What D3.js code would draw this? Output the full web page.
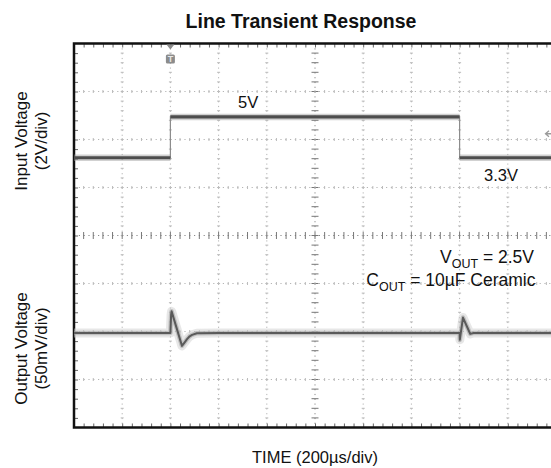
<!DOCTYPE html>
<html>
<head>
<meta charset="utf-8">
<script src="https://cdn.jsdelivr.net/npm/d3@7/dist/d3.min.js"></script>
<style>
  html, body { margin: 0; padding: 0; background: #fff; }
  svg { display: block; font-family: "Liberation Sans", Arial, Helvetica, sans-serif; }
</style>
</head>
<body>
<svg id="chart" width="551" height="468"></svg>
<script>
// Oscilloscope capture: 10 horizontal x 8 vertical divisions
const timeDomain = [0, 2000];          // µs, 200 µs/div
const divisionsX = 10;
const divisionsY = 8;

// Input channel (2 V/div): step 3.3 V -> 5 V -> 3.3 V
const inputTime = [0, 400, 400, 1600, 1600, 2000];
const inputVolt = [3.3, 3.3, 5.0, 5.0, 3.3, 3.3];

// Output channel (50 mV/div, AC coupled around 2.5 V), deviation in mV
const outputTime = [0, 400, 403, 405, 448, 460, 469, 480, 490, 510, 600, 1600, 1601, 1614, 1630, 1644, 1658, 2000];
const outputMv   = [0, 0, 19, 22.5, -13.5, -9.5, -6.5, -3.5, -2, -0.3, 0, 0, -7, 16, 7, -1, 0, 0];

// Channel ground positions, in divisions from screen centre
const inputPosDiv = -0.03;
const outputPosDiv = -2.03;
const inputVoltsPerDiv = 2;
const outputMvPerDiv = 50;

const labels = {
  title: "Line Transient Response",
  xAxis: "TIME (200µs/div)",
  inputAxis: ["Input Voltage", "(2V/div)"],
  outputAxis: ["Output Voltage", "(50mV/div)"],
  high: "5V",
  low: "3.3V"
};

const svg = d3.select("#chart");
const plot = { left: 74, right: 556, top: 43.5, bottom: 427.5 };

const x = d3.scaleLinear().domain(timeDomain).range([plot.left, plot.right]);
const yDiv = d3.scaleLinear().domain([-divisionsY / 2, divisionsY / 2]).range([plot.bottom, plot.top]);
const yIn = d3.scaleLinear()
  .domain([(-divisionsY / 2 - inputPosDiv) * inputVoltsPerDiv, (divisionsY / 2 - inputPosDiv) * inputVoltsPerDiv])
  .range([plot.bottom, plot.top]);
const yOut = d3.scaleLinear()
  .domain([(-divisionsY / 2 - outputPosDiv) * outputMvPerDiv, (divisionsY / 2 - outputPosDiv) * outputMvPerDiv])
  .range([plot.bottom, plot.top]);

const xDivStep = (timeDomain[1] - timeDomain[0]) / divisionsX;
const majorX = d3.range(1, divisionsX).map(i => timeDomain[0] + i * xDivStep);
const majorY = d3.range(1, divisionsY).map(i => -divisionsY / 2 + i);
const minorX = d3.range(1, divisionsX * 5).map(i => timeDomain[0] + i * xDivStep / 5);
const minorY = d3.range(1, divisionsY * 5).map(i => -divisionsY / 2 + i / 5);
const centreT = (timeDomain[0] + timeDomain[1]) / 2;

// Graticule: dotted lines
const grid = svg.append("g").attr("class", "graticule");
grid.selectAll("line.vx").data(majorX).join("line")
  .attr("x1", d => x(d)).attr("x2", d => x(d))
  .attr("y1", plot.top).attr("y2", plot.bottom)
  .attr("stroke", d => d === centreT ? "#8a8a8a" : "#b5b5b5")
  .attr("stroke-width", 1)
  .attr("stroke-dasharray", "1.2,3.6");
grid.selectAll("line.hy").data(majorY).join("line")
  .attr("x1", plot.left).attr("x2", plot.right)
  .attr("y1", d => yDiv(d)).attr("y2", d => yDiv(d))
  .attr("stroke", d => d === 0 ? "#8a8a8a" : "#b5b5b5")
  .attr("stroke-width", 1)
  .attr("stroke-dasharray", "1.2,3.6");

// Small ticks along every graticule line at 1/5 division
const tickPairs = [];
majorX.forEach(t => minorY.forEach(d => tickPairs.push({ vx: t, d, centre: t === centreT })));
const tickPairsH = [];
majorY.forEach(d => minorX.forEach(t => tickPairsH.push({ hy: d, t, centre: d === 0 })));
grid.selectAll("line.tv").data(tickPairs).join("line")
  .attr("x1", p => x(p.vx) - (p.centre ? 3.5 : 1.5))
  .attr("x2", p => x(p.vx) + (p.centre ? 3.5 : 1.5))
  .attr("y1", p => yDiv(p.d)).attr("y2", p => yDiv(p.d))
  .attr("stroke", p => p.centre ? "#777" : "#bbb")
  .attr("stroke-width", 1);
grid.selectAll("line.th").data(tickPairsH).join("line")
  .attr("y1", p => yDiv(p.hy) - (p.centre ? 3.5 : 1.5))
  .attr("y2", p => yDiv(p.hy) + (p.centre ? 3.5 : 1.5))
  .attr("x1", p => x(p.t)).attr("x2", p => x(p.t))
  .attr("stroke", p => p.centre ? "#777" : "#bbb")
  .attr("stroke-width", 1);

// Border ticks via d3 axes, pointing inward
const topAxis = d3.axisBottom(x).tickValues(minorX).tickSize(4).tickFormat("");
const bottomAxis = d3.axisTop(x).tickValues(minorX).tickSize(4).tickFormat("");
const leftAxis = d3.axisRight(yDiv).tickValues(minorY).tickSize(4).tickFormat("");
[[topAxis, `translate(0,${plot.top})`], [bottomAxis, `translate(0,${plot.bottom})`], [leftAxis, `translate(${plot.left},0)`]]
  .forEach(([ax, tr]) => {
    const g = svg.append("g").attr("transform", tr).call(ax);
    g.select(".domain").remove();
    g.selectAll(".tick line").attr("stroke", "#666").attr("stroke-width", 1);
  });

// Frame
svg.append("rect")
  .attr("x", plot.left).attr("y", plot.top)
  .attr("width", plot.right - plot.left).attr("height", plot.bottom - plot.top)
  .attr("fill", "none").attr("stroke", "#111").attr("stroke-width", 2.5);

// Input trace
const inPts = inputTime.map((t, i) => [t, inputVolt[i]]);
const inLine = d3.line().x(d => x(d[0])).y(d => yIn(d[1]));
const traces = svg.append("g").attr("class", "traces");
traces.append("path").datum(inPts).attr("d", inLine)
  .attr("fill", "none").attr("stroke", "#8c8c8c").attr("stroke-width", 1.2);
// flat levels drawn heavier than the fast edges
const levels = [];
for (let i = 0; i < inPts.length - 1; i++) {
  if (inPts[i][1] === inPts[i + 1][1]) levels.push([inPts[i], inPts[i + 1]]);
}
traces.selectAll("path.halo").data(levels).join("path")
  .attr("d", inLine).attr("fill", "none")
  .attr("stroke", "#9a9a9a").attr("stroke-opacity", 0.45).attr("stroke-width", 6.5);
traces.selectAll("path.lvl").data(levels).join("path")
  .attr("d", inLine).attr("fill", "none")
  .attr("stroke", "#4d4d4d").attr("stroke-width", 3.2);

// Output trace with noise haze
const outPts = outputTime.map((t, i) => [t, outputMv[i]]);
const outLine = d3.line().x(d => x(d[0])).y(d => yOut(d[1]));
traces.append("path").datum(outPts).attr("d", outLine)
  .attr("fill", "none").attr("stroke", "#cfcfcf").attr("stroke-opacity", 0.5)
  .attr("stroke-width", 9).attr("stroke-linejoin", "round");
traces.append("path").datum(outPts).attr("d", outLine)
  .attr("fill", "none").attr("stroke", "#a0a0a0").attr("stroke-opacity", 0.55)
  .attr("stroke-width", 4.5).attr("stroke-linejoin", "round");
traces.append("path").datum(outPts).attr("d", outLine)
  .attr("fill", "none").attr("stroke", "#5a5a5a")
  .attr("stroke-width", 2).attr("stroke-linejoin", "round");

// Trigger marker at top
const trigX = x(inputTime[1]);
const marker = svg.append("g").attr("fill", "#8c8c8c");
marker.append("path").attr("d", `M${trigX - 4},${plot.top + 1} L${trigX + 4},${plot.top + 1} L${trigX},${plot.top + 6} Z`);
marker.append("rect").attr("x", trigX - 4.5).attr("y", plot.top + 11).attr("width", 9).attr("height", 9).attr("rx", 1.5);
marker.append("text").attr("x", trigX).attr("y", plot.top + 18.5)
  .attr("text-anchor", "middle").attr("font-size", 9).attr("font-weight", "bold")
  .attr("fill", "#e8e8e8").text("T");

// Input channel reference arrow at right edge
svg.append("path")
  .attr("d", `M549,${yIn(4.3) - 3} L545.5,${yIn(4.3)} L549,${yIn(4.3) + 3} M545.5,${yIn(4.3)} L551,${yIn(4.3)}`)
  .attr("fill", "none").attr("stroke", "#9a9a9a").attr("stroke-width", 1.3);

// Text
const txt = svg.append("g").attr("fill", "#111");
txt.append("text").attr("x", 301).attr("y", 28).attr("text-anchor", "middle")
  .attr("font-size", 19.5).attr("font-weight", "bold").text(labels.title);

txt.append("text").attr("x", 238).attr("y", 108).attr("font-size", 16.5).text(labels.high);
txt.append("text").attr("x", 484).attr("y", 181).attr("font-size", 16.5).text(labels.low);

const vout = txt.append("text").attr("x", 534).attr("y", 263).attr("text-anchor", "end").attr("font-size", 17.5);
vout.append("tspan").text("V");
vout.append("tspan").attr("font-size", 12.5).attr("dy", 5).text("OUT");
vout.append("tspan").attr("dy", -5).text(" = 2.5V");

const cout = txt.append("text").attr("x", 535.5).attr("y", 286).attr("text-anchor", "end").attr("font-size", 17.5);
cout.append("tspan").text("C");
cout.append("tspan").attr("font-size", 12.5).attr("dy", 5).text("OUT");
cout.append("tspan").attr("dy", -5).text(" = 10µF Ceramic");

function yLabel(lines, cy) {
  const t = txt.append("text").attr("transform", `translate(27,${cy}) rotate(-90)`)
    .attr("text-anchor", "middle").attr("font-size", 17);
  lines.forEach((s, i) => t.append("tspan").attr("x", 0).attr("y", i * 19.5).text(s));
}
yLabel(labels.inputAxis, 141);
yLabel(labels.outputAxis, 348.5);

txt.append("text").attr("x", 315).attr("y", 463).attr("text-anchor", "middle")
  .attr("font-size", 16.5).text(labels.xAxis);
</script>
</body>
</html>
